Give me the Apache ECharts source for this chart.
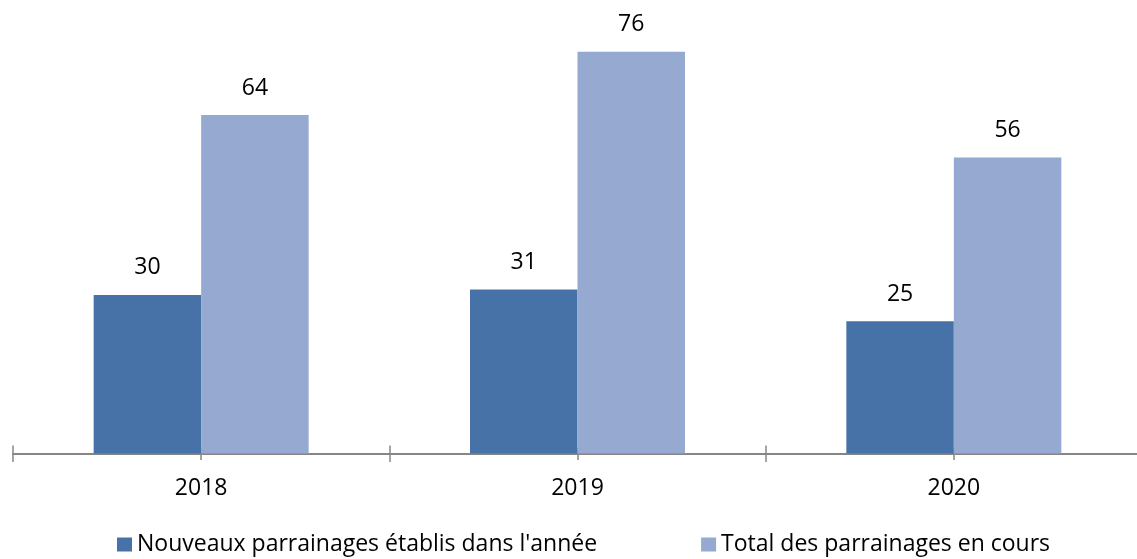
<!DOCTYPE html>
<html>
<head>
<meta charset="utf-8">
<script src="https://cdn.jsdelivr.net/npm/echarts@6/dist/echarts.min.js"></script>
<style>
html,body{margin:0;padding:0;background:#fff;}
#chart{width:1137px;height:559px;}
</style>
</head>
<body>
<div id="chart"></div>
<script>
var categories = ['2018', '2019', '2020'];
var nouveaux = [30, 31, 25];
var total = [64, 76, 56];
var seriesNames = ["Nouveaux parrainages établis dans l'année", 'Total des parrainages en cours'];

var FONT = 'Open Sans';
var AXIS_COLOR = '#868686';
var chart = echarts.init(document.getElementById('chart'), null, {renderer: 'canvas'});
var labelStyle = {show: true, position: 'top', distance: 15.5, color: '#000', fontFamily: FONT, fontSize: 23};
chart.setOption({
  animation: false,
  textStyle: {fontFamily: FONT},
  grid: {left: 13, width: 1129, top: 30.5, bottom: 105.5, containLabel: false, outerBoundsMode: 'none'},
  legend: {
    left: 117, top: 533, padding: 0,
    itemWidth: 15, itemHeight: 14, itemGap: 104,
    icon: 'rect',
    textStyle: {fontFamily: FONT, fontSize: 23, color: '#000'},
    data: seriesNames
  },
  xAxis: [
    {
      type: 'category', data: categories, position: 'bottom',
      axisLine: {show: true, lineStyle: {color: AXIS_COLOR, width: 2}},
      axisTick: {show: false},
      axisLabel: {margin: 23, color: '#000', fontFamily: FONT, fontSize: 23}
    },
    {
      type: 'category', data: categories, position: 'bottom', offset: -8,
      axisLine: {show: false},
      axisTick: {show: true, length: 16.5, lineStyle: {color: AXIS_COLOR, width: 1.5}},
      axisLabel: {show: false}
    },
    {
      type: 'category', data: categories, position: 'bottom', offset: -5.5,
      axisLine: {show: false},
      axisTick: {show: true, alignWithLabel: true, length: 12, lineStyle: {color: AXIS_COLOR, width: 1.5}},
      axisLabel: {show: false}
    }
  ],
  yAxis: {type: 'value', min: 0, max: 80, show: false, splitLine: {show: false}},
  series: [
    {
      name: seriesNames[0], type: 'bar', data: nouveaux, xAxisIndex: 0,
      barWidth: 107.5, barGap: '0%',
      itemStyle: {color: '#4672A8'},
      label: labelStyle
    },
    {
      name: seriesNames[1], type: 'bar', data: total, xAxisIndex: 0,
      barWidth: 107.5, barGap: '0%',
      itemStyle: {color: '#95A9D1'},
      label: labelStyle
    }
  ]
});
</script>
</body>
</html>
